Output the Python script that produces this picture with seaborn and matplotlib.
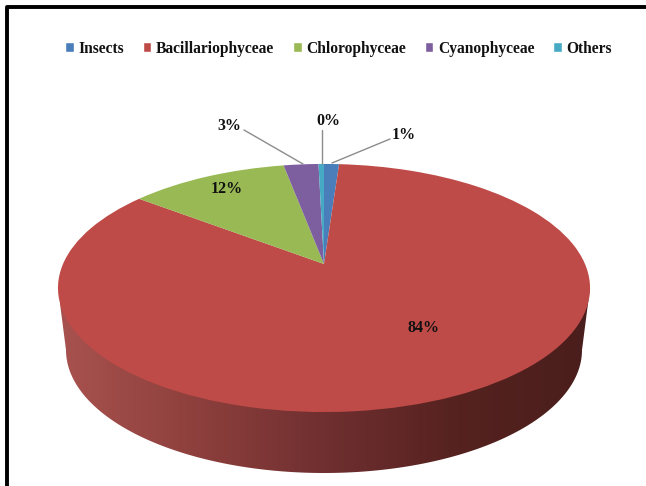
import numpy as np
import seaborn as sns
import matplotlib.pyplot as plt
from matplotlib.colors import LinearSegmentedColormap
from matplotlib.patches import Polygon, Rectangle
from matplotlib.transforms import Transform

# Dados
grupos = ['Insects', 'Bacillariophyceae', 'Chlorophyceae', 'Cyanophyceae', 'Others']
valores = [1.1, 84.35, 11.6, 2.55, 0.4]
cores = ['#4A7EBB', '#BE4B48', '#98B954', '#7D5FA0', '#46AAC5']

# Centro do pie e perspectiva, em pixels
cx, cy = 324, 264
k = 0.1935
a = 261
b = 119.4


class Perspectiva(Transform):
    input_dims = output_dims = 2

    def transform_non_affine(self, pts):
        pts = np.asarray(pts)
        w = 1 + k * pts[:, 1]
        return np.column_stack([cx + a * pts[:, 0] / w, cy - b * pts[:, 1] / w])


sns.set_theme(style='white')
plt.rcParams['font.family'] = ['Liberation Serif', 'DejaVu Serif']

fig = plt.figure(figsize=(6.46, 4.86), dpi=100)
ax = fig.add_axes([0, 0, 1, 1])

wedges, _ = ax.pie(valores, colors=sns.color_palette(cores), startangle=90, counterclock=False)
persp = Perspectiva()
for w in wedges:
    w.set_transform(persp + ax.transData)
    w.set_zorder(3)
    w.set_linewidth(0)

ax.set_aspect('auto')
ax.set_xlim(0, 646)
ax.set_ylim(486, 0)
ax.axis('off')

# Lateral 3D com degrade
t = np.linspace(0, np.pi, 200)
lado_x = 324 - 258 * np.cos(t)
lado_y = 350 + 123 * np.sin(t)
lado = np.column_stack([lado_x, lado_y])
lado = np.vstack([[58, 288], lado, [590, 288]])
cmap = LinearSegmentedColormap.from_list('lateral', ['#A8524F', '#8E403D', '#702F30', '#55221F', '#4A1E1C'])
img = ax.imshow(np.linspace(0, 1, 256)[None, :], cmap=cmap, extent=[60, 590, 480, 280], aspect='auto', zorder=1)
clip = Polygon(lado, closed=True, transform=ax.transData, fc='none', ec='none')
ax.add_patch(clip)
img.set_clip_path(clip)
ax.set_xlim(0, 646)
ax.set_ylim(486, 0)

# Rotulos de porcentagem e linhas de chamada
rotulos = [f'{v:.0f}%' for v in valores]
pos_rotulos = [(404, 135), (424, 328), (227, 189), (229, 126), (328, 121)]
for txt, (x, y) in zip(rotulos, pos_rotulos):
    ax.text(x, y, txt, ha='center', va='center', fontsize=11.5, fontweight='bold', color='#111111', zorder=5)

ax.plot([390, 332], [139, 163], color='#8c8c8c', lw=1, zorder=4)
ax.plot([322, 322], [130, 164], color='#8c8c8c', lw=1, zorder=4)
ax.plot([244, 303], [130, 164], color='#8c8c8c', lw=1, zorder=4)

# Legenda
handles = [Rectangle((0, 0), 1, 1, fc=c) for c in cores]
ax.legend(handles, grupos, ncol=5, loc='center', bbox_to_anchor=(0.524, 0.9), frameon=False,
          prop={'size': 11.2, 'weight': 'bold'}, handlelength=0.55, handleheight=0.6,
          handletextpad=0.3, columnspacing=1.2, labelcolor='#111111')

# Moldura preta
ax.plot([6.5, 6.5, 646], [486, 7.5, 7.5], color='black', lw=2.8, zorder=6, clip_on=False)

fig.savefig('out.png', dpi=100)
